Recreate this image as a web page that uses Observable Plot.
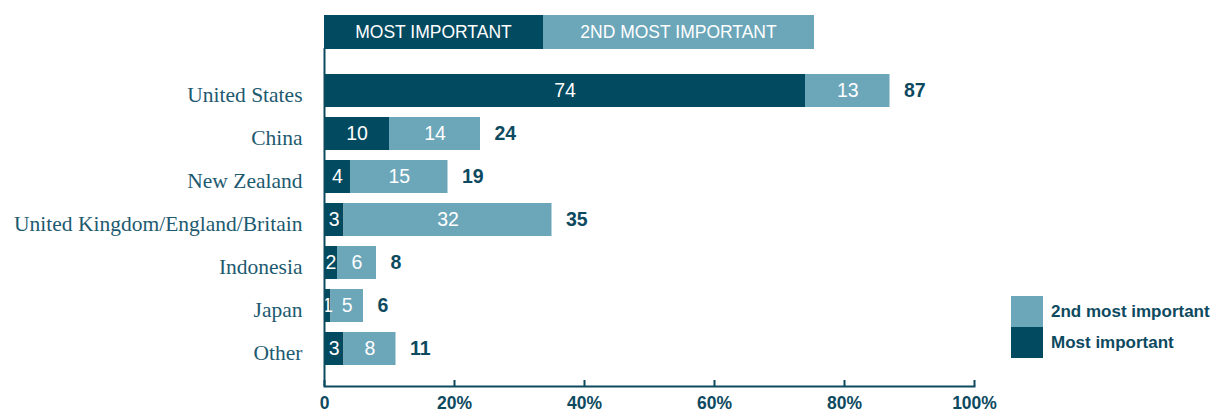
<!DOCTYPE html>
<html>
<head>
<meta charset="utf-8">
<script src="https://cdn.jsdelivr.net/npm/d3@7"></script>
<script src="https://cdn.jsdelivr.net/npm/@observablehq/plot@0.6"></script>
<style>
  html, body { margin: 0; padding: 0; background: #fff; }
  #wrap { position: relative; width: 1215px; height: 414px; overflow: hidden; font-family: "Liberation Sans", Arial, sans-serif; }
  #chart { position: absolute; left: 0; top: 0; }
  .hdr { position: absolute; top: 15px; height: 34px; line-height: 34px; color: #fff; font-size: 17.5px; text-align: center; }
  .leg { position: absolute; left: 1011px; width: 32px; height: 31px; }
  .legt { position: absolute; left: 1051px; font-size: 17px; color: #0d4a5f; line-height: 31px; font-weight: bold; }
</style>
</head>
<body>
<div id="wrap"><div id="chart"></div></div>
<script>
const categories = ["United States", "China", "New Zealand", "United Kingdom/England/Britain", "Indonesia", "Japan", "Other"];
const mostImportant = [74, 10, 4, 3, 2, 1, 3];
const secondMost = [13, 14, 15, 32, 6, 5, 8];
const totals = [87, 24, 19, 35, 8, 6, 11];
const seriesNames = ["Most important", "2nd most important"];
const headerLabels = ["MOST IMPORTANT", "2ND MOST IMPORTANT"];
const xTicks = [0, 20, 40, 60, 80, 100];
const xTickLabels = ["0", "20%", "40%", "60%", "80%", "100%"];

const DARK = "#024a5f";
const LIGHT = "#6ca6b9";
const INK = "#0d4a5f";

const rows = [];
categories.forEach((c, i) => {
  rows.push({category: c, series: seriesNames[0], value: mostImportant[i]});
  rows.push({category: c, series: seriesNames[1], value: secondMost[i]});
});
const totalRows = categories.map((c, i) => ({category: c, total: totals[i]}));

const plot = Plot.plot({
  width: 1215,
  height: 414,
  marginLeft: 324,
  marginRight: 241,
  marginTop: 48,
  marginBottom: 28,
  style: {fontFamily: "'Liberation Sans', Arial, sans-serif", background: "transparent"},
  x: {domain: [0, 100], axis: null},
  y: {domain: categories, range: [66.3, 372.4], paddingInner: 0.2255, paddingOuter: 0.1, axis: null},
  color: {domain: seriesNames, range: [DARK, LIGHT]},
  marks: [
    Plot.barX(rows, Plot.stackX({x: "value", y: "category", fill: "series", order: seriesNames})),
    Plot.textX(rows, Plot.stackX({x: "value", y: "category", z: "series", order: seriesNames, text: d => String(d.value), fill: "#ffffff", fontSize: 19.5})),
    Plot.text(totalRows, {x: "total", y: "category", text: d => String(d.total), textAnchor: "start", dx: 14, fill: INK, fontSize: 19.5, fontWeight: "bold"}),
    Plot.axisY({tickSize: 0, tickPadding: 22, dy: 4, fontSize: 21.5, fontFamily: "'Liberation Serif', 'DejaVu Serif', serif", fill: "#1d5a70", label: null}),
    Plot.axisX({ticks: xTicks, tickFormat: (d) => xTickLabels[xTicks.indexOf(d)], tickSize: -6, tickPadding: 16, stroke: INK, strokeWidth: 2, fill: INK, fontSize: 17.5, fontWeight: "bold", label: null}),
    Plot.ruleX([xTicks[0]], {stroke: INK, strokeWidth: 2}),
    Plot.frame({anchor: "bottom", stroke: INK, strokeWidth: 2})
  ]
});
document.getElementById("chart").appendChild(plot);

// header legend band and side legend
const wrap = document.getElementById("wrap");
const hdrWidths = [219, 271];
let left = 324;
headerLabels.forEach((t, i) => {
  const d = document.createElement("div");
  d.className = "hdr";
  d.style.left = left + "px";
  d.style.width = hdrWidths[i] + "px";
  d.style.background = i === 0 ? DARK : LIGHT;
  d.textContent = t;
  wrap.appendChild(d);
  left += hdrWidths[i];
});
const legendOrder = [seriesNames[1], seriesNames[0]];
legendOrder.forEach((s, i) => {
  const sw = document.createElement("div");
  sw.className = "leg";
  sw.style.top = (296 + i * 31) + "px";
  sw.style.background = s === seriesNames[0] ? DARK : LIGHT;
  wrap.appendChild(sw);
  const t = document.createElement("div");
  t.className = "legt";
  t.style.top = (296 + i * 31) + "px";
  t.textContent = s;
  wrap.appendChild(t);
});
</script>
</body>
</html>
